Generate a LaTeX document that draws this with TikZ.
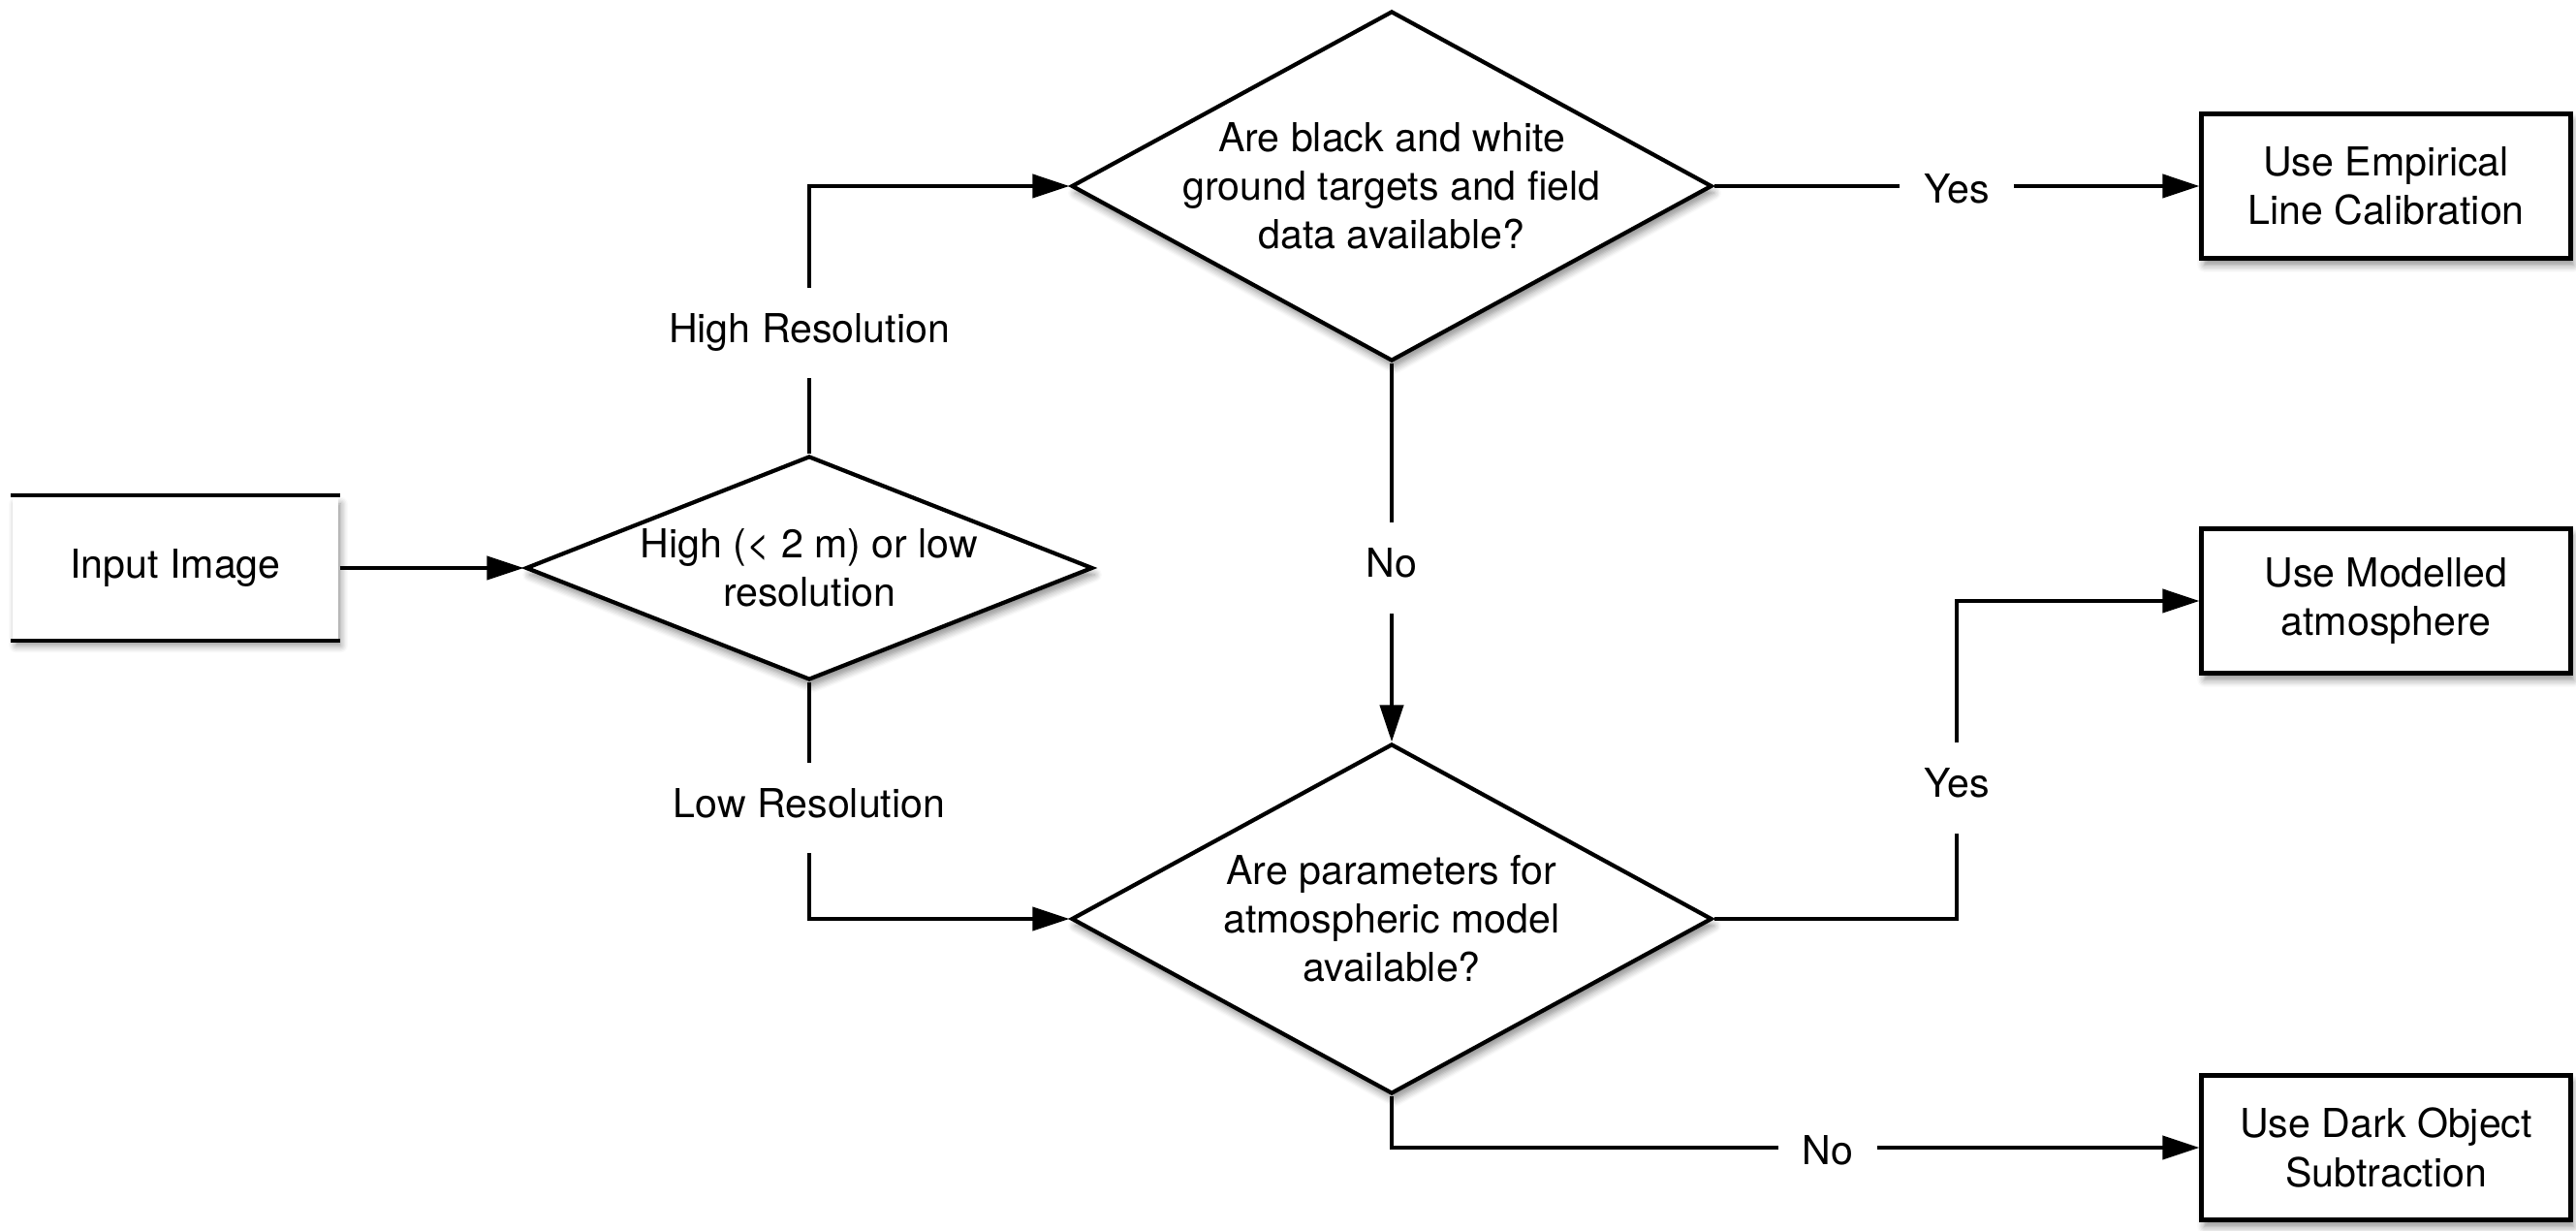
\documentclass[tikz,border=0pt]{standalone}
\usepackage{fontspec}
\setmainfont{TeX Gyre Heros}
\usepackage{tikz}
\usetikzlibrary{shapes, positioning, arrows.meta, shadows.blur}

\begin{document}
\begin{tikzpicture}[
        font=\fontsize{11.7}{14.3}\selectfont,
        soft/.style={blur shadow={shadow xshift=0.03cm, shadow yshift=-0.07cm, shadow opacity=45, shadow blur steps=6}},
        box/.style={draw, line width=1.2pt, fill=white, align=center, minimum width=3.81cm, minimum height=1.49cm, soft},
        dia/.style={diamond, draw, line width=1.2pt, fill=white, align=center, inner sep=-2pt, soft},
        lbl/.style={fill=white, inner xsep=0.25cm, inner ysep=0.3cm, text height=0.75em, text depth=0.2em, yshift=-0.08cm},
        ln/.style={line width=1.2pt},
        arr/.style={line width=1.2pt, -{Triangle[length=0.38cm, width=0.24cm]}}
    ]
        \useasboundingbox (0,0) rectangle (26.58,12.70); % page size

        % Input (only top and bottom lines)
        \node[box, draw=none, minimum width=3.35cm, minimum height=1.46cm] (input) at (1.81,6.84) {Input Image};
        \draw[ln] (input.north west) -- (input.north east); % top line
        \draw[ln] (input.south west) -- (input.south east); % bottom line

        % Decisions
        \node[dia, aspect=2.53, minimum width=5.85cm, minimum height=2.31cm] (res) at (8.35,6.84) {High (< 2 m) or low\\resolution};
        \node[dia, aspect=1.83, minimum width=6.61cm, minimum height=3.61cm] (targets) at (14.36,10.78) {Are black and white\\ground targets and field\\data available?};
        \node[dia, aspect=1.83, minimum width=6.61cm, minimum height=3.61cm] (params) at (14.36,3.22) {Are parameters for\\atmospheric model\\available?};

        % Outcomes
        \node[box] (empirical) at (24.62,10.78) {Use Empirical\\Line Calibration};
        \node[box] (modelled) at (24.62,6.50) {Use Modelled\\atmosphere};
        \node[box] (dark) at (24.62,0.86) {Use Dark Object\\Subtraction};

        % Connectors
        \draw[arr] (input.east) -- (res.west);
        \draw[arr] (res.north) |- node[lbl, pos=0.24] {High Resolution} (targets.west);
        \draw[arr] (res.south) |- node[lbl, pos=0.25] {Low Resolution} (params.west);
        \draw[arr] (targets.east) -- node[lbl] {Yes} (empirical.west);
        \draw[arr] (targets.south) -- node[lbl, pos=0.52] {No} (params.north);
        \coordinate (bend) at (20.19,4.65); % where the right Yes sits
        \draw[arr] (params.east) -| (bend) node[lbl] {Yes} |- (modelled.west);
        \draw[arr] (params.south) |- node[lbl, pos=0.77] {No} (dark.west);
    \end{tikzpicture}
\end{document}
